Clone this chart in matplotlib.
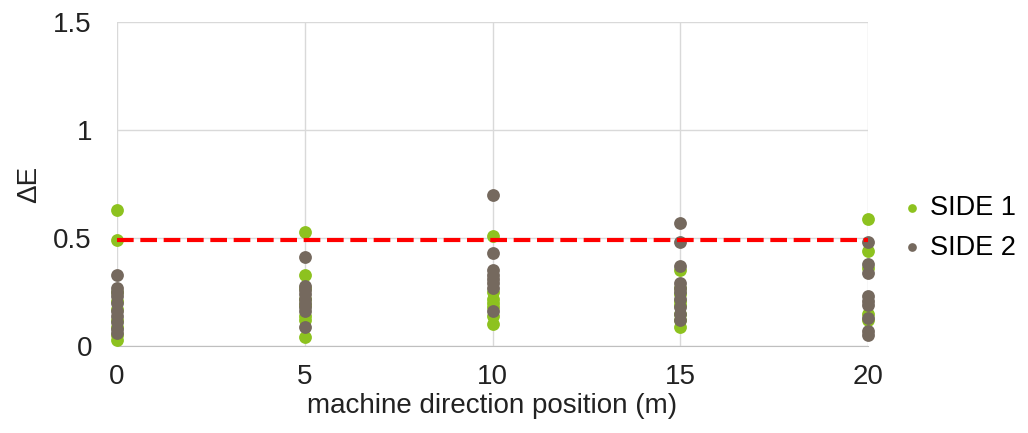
import matplotlib.pyplot as plt
import numpy as np

plt.rcParams['font.family'] = ['Liberation Sans', 'DejaVu Sans']

# positions along machine direction (m)
positions = [0, 5, 10, 15, 20]

# delta E values, per position
side1 = {
    0: [0.63, 0.49, 0.25, 0.21, 0.17, 0.12, 0.09, 0.05, 0.03],
    5: [0.53, 0.33, 0.27, 0.22, 0.19, 0.14, 0.12, 0.04],
    10: [0.51, 0.25, 0.22, 0.20, 0.18, 0.14, 0.10],
    15: [0.35, 0.27, 0.24, 0.21, 0.19, 0.15, 0.12, 0.09],
    20: [0.59, 0.44, 0.36, 0.15, 0.12],
}
side2 = {
    0: [0.33, 0.27, 0.25, 0.23, 0.20, 0.16, 0.14, 0.11, 0.08, 0.06],
    5: [0.41, 0.28, 0.26, 0.24, 0.22, 0.20, 0.18, 0.16, 0.09],
    10: [0.70, 0.43, 0.35, 0.33, 0.31, 0.29, 0.27, 0.16],
    15: [0.57, 0.48, 0.37, 0.29, 0.27, 0.25, 0.22, 0.18, 0.15, 0.12],
    20: [0.48, 0.38, 0.34, 0.23, 0.21, 0.19, 0.13, 0.07, 0.05],
}
threshold = 0.49

green = '#8dc21f'
brown = '#75695e'

fig = plt.figure(figsize=(10.28, 4.33), dpi=100)
ax = fig.add_axes([0.1138, 0.2009, 0.7306, 0.7481])

x1 = [p for p in positions for v in side1[p]]
y1 = [v for p in positions for v in side1[p]]
x2 = [p for p in positions for v in side2[p]]
y2 = [v for p in positions for v in side2[p]]

ax.scatter(x1, y1, s=85, color=green, label='SIDE 1', zorder=3, linewidths=0, clip_on=False)
ax.scatter(x2, y2, s=85, color=brown, label='SIDE 2', zorder=4, linewidths=0, clip_on=False)
ax.plot([positions[0], positions[-1]], [threshold, threshold], color='#ff0000',
        linestyle=(0, (4, 1.6)), linewidth=3, zorder=5)

ax.set_xlim(0, 20)
ax.set_ylim(0, 1.5)
ax.set_xticks(positions)
ax.set_yticks([0, 0.5, 1, 1.5])
ax.set_yticklabels(['0', '0.5', '1', '1.5'])
ax.grid(True, color='#d9d9d9', linewidth=1)
ax.set_axisbelow(True)
for s in ['top', 'left', 'right']:
    ax.spines[s].set_visible(False)
ax.spines['bottom'].set_color('#bfbfbf')
ax.tick_params(axis='y', length=0, labelsize=20, colors='#222222', pad=18)
ax.tick_params(axis='x', length=0, labelsize=20, colors='#222222', pad=13)
ax.set_xlabel('machine direction position (m)', fontsize=20, color='#222222', labelpad=2)
ax.set_ylabel('ΔE', fontsize=20, color='#222222', labelpad=8)

ax.legend(loc='center left', bbox_to_anchor=(1.005, 0.365), frameon=False,
          fontsize=19.5, handletextpad=0.05, markerscale=0.68, labelspacing=0.5,
          handlelength=1.2)

fig.savefig('out.png', dpi=100)
